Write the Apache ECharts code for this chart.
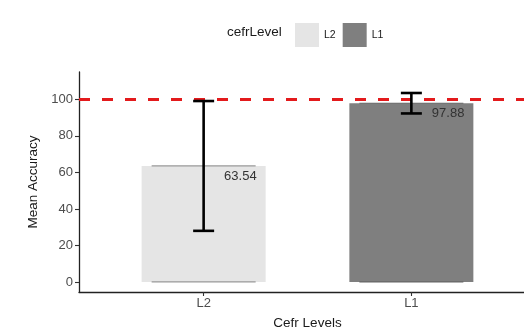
<!DOCTYPE html>
<html>
<head>
<meta charset="utf-8">
<script src="https://cdn.jsdelivr.net/npm/echarts@6/dist/echarts.min.js"></script>
<style>html,body{margin:0;padding:0;background:#fff}#c{width:524px;height:329px}</style>
</head>
<body>
<div id="c"></div>
<script>
const categories = ['L2', 'L1'];
const means = [63.54, 97.88];
const lower = [28.0, 92.3];
const upper = [99.1, 103.5];
const yTicks = [0, 20, 40, 60, 80, 100];
const refLine = 100;
const barColors = ['#e5e5e5', '#7f7f7f'];
const edgeColors = ['#999999', '#666666'];

const chart = echarts.init(document.getElementById('c'), null, {renderer: 'canvas'});
const FONT = 'Liberation Sans, Arial, sans-serif';
const xPos = categories.map((c, i) => i + 1);

const barSeries = categories.map((c, i) => ({
  type: 'bar',
  name: c,
  data: [[xPos[i], means[i]]],
  barWidth: 124,
  barGap: '-100%',
  itemStyle: {color: barColors[i]},
  silent: true,
  z: 2
}));

const edgeSeries = {
  type: 'custom',
  data: categories.map((c, i) => [xPos[i], means[i], i]),
  renderItem: function (params, api) {
    const x = api.value(0), m = api.value(1), i = api.value(2);
    const top = api.coord([x, m]);
    const bot = api.coord([x, 0]);
    const hw = 52;
    const col = edgeColors[i];
    return {type: 'group', children: [
      {type: 'line', shape: {x1: top[0] - hw, y1: top[1], x2: top[0] + hw, y2: top[1]}, style: {stroke: col, lineWidth: 1.2}},
      {type: 'line', shape: {x1: bot[0] - hw, y1: bot[1], x2: bot[0] + hw, y2: bot[1]}, style: {stroke: col, lineWidth: 1.2}}
    ]};
  },
  silent: true,
  z: 3
};

const errSeries = {
  type: 'custom',
  data: categories.map((c, i) => [xPos[i], lower[i], upper[i]]),
  renderItem: function (params, api) {
    const x = api.value(0);
    const lo = api.coord([x, api.value(1)]);
    const hi = api.coord([x, api.value(2)]);
    const cw = 10.5;
    const st = {stroke: '#000', lineWidth: 2.6};
    return {type: 'group', children: [
      {type: 'line', shape: {x1: lo[0], y1: lo[1], x2: hi[0], y2: hi[1]}, style: st},
      {type: 'line', shape: {x1: lo[0] - cw, y1: lo[1], x2: lo[0] + cw, y2: lo[1]}, style: st},
      {type: 'line', shape: {x1: hi[0] - cw, y1: hi[1], x2: hi[0] + cw, y2: hi[1]}, style: st}
    ]};
  },
  silent: true,
  z: 5
};

const labelSeries = {
  type: 'custom',
  data: categories.map((c, i) => [xPos[i], means[i]]),
  renderItem: function (params, api) {
    const p = api.coord([api.value(0), api.value(1)]);
    return {type: 'text', style: {
      x: p[0] + 53, y: p[1] + 10.5, text: api.value(1).toFixed(2),
      align: 'right', verticalAlign: 'middle',
      font: '13px ' + FONT, fill: '#333333'
    }};
  },
  silent: true,
  z: 6
};

const lineSeries = {
  type: 'line',
  data: [],
  silent: true,
  markLine: {
    silent: true,
    symbol: 'none',
    label: {show: false},
    lineStyle: {color: '#e31a1c', width: 3, type: [11, 12]},
    data: [{yAxis: refLine}]
  },
  z: 8
};

chart.setOption({
  animation: false,
  backgroundColor: '#ffffff',
  textStyle: {fontFamily: FONT},
  graphic: [{
    type: 'text', left: 227, top: 25,
    style: {text: 'cefrLevel', font: '13.5px ' + FONT, fill: '#1a1a1a'}
  }],
  legend: {
    data: categories,
    left: 290, top: 18,
    itemWidth: 24, itemHeight: 24, itemGap: 7,
    icon: 'rect',
    textStyle: {fontSize: 10.5, color: '#1a1a1a', fontFamily: FONT},
    selectedMode: false
  },
  grid: {left: 79, right: -12, top: 72, bottom: 37, containLabel: false, outerBoundsMode: 'none'},
  xAxis: {
    type: 'value',
    min: 0.4, max: 2.6,
    name: 'Cefr Levels',
    nameLocation: 'middle',
    nameGap: 24,
    nameTextStyle: {fontSize: 13.5, color: '#1a1a1a', fontFamily: FONT},
    axisLine: {show: true, onZero: false, lineStyle: {color: '#222', width: 1.3}},
    axisTick: {show: true, length: 4, customValues: xPos, lineStyle: {color: '#333', width: 1.1}},
    axisLabel: {
      customValues: xPos,
      formatter: v => categories[Math.round(v) - 1] || '',
      fontSize: 13, color: '#4d4d4d', margin: 5, fontFamily: FONT
    },
    splitLine: {show: false}
  },
  yAxis: {
    type: 'value',
    min: -5.5, max: 115,
    name: 'Mean Accuracy',
    nameLocation: 'middle',
    nameGap: 30,
    nameRotate: 90,
    nameTextStyle: {fontSize: 13.5, color: '#1a1a1a', fontFamily: FONT},
    axisLine: {show: true, onZero: false, lineStyle: {color: '#222', width: 1.3}},
    axisTick: {show: true, length: 4, customValues: yTicks, lineStyle: {color: '#333', width: 1.1}},
    axisLabel: {
      customValues: yTicks,
      fontSize: 13, color: '#4d4d4d', margin: 6, fontFamily: FONT
    },
    splitLine: {show: false}
  },
  series: [...barSeries, edgeSeries, errSeries, labelSeries, lineSeries]
});
</script>
</body>
</html>
